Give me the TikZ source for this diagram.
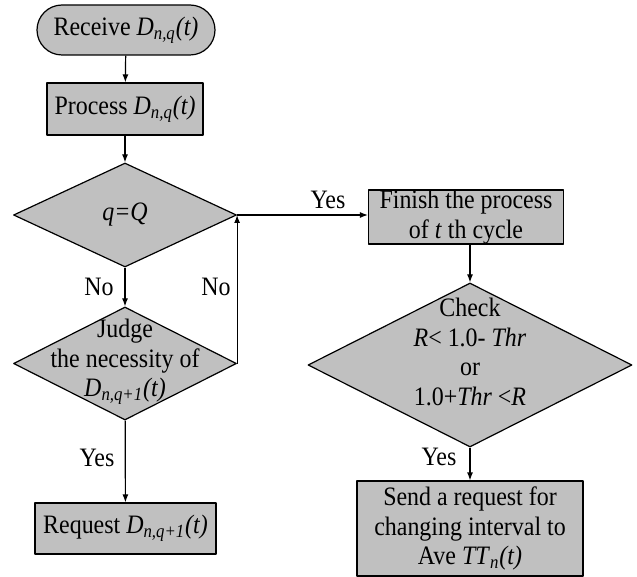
\documentclass[tikz,border=0pt]{standalone}
\usepackage{fontspec}
\setmainfont[FakeStretch=0.9]{Liberation Serif}
\usetikzlibrary{shapes.geometric,arrows.meta}
\definecolor{boxgray}{RGB}{192,192,192}
\newcommand{\Dsub}[1]{\textit{D}\textsubscript{\textit{#1}}\textit{(t)}}
\begin{document}
\begin{tikzpicture}[x=0.5pt, y=-0.5pt, font=\fontsize{13.3}{14.75}\selectfont, line join=round, >={Latex[length=4pt,width=3pt]},
  procbox/.style={draw, fill=boxgray, line width=0.6pt, inner sep=0pt, align=center},
  decision/.style={draw, fill=boxgray, line width=0.6pt, diamond, inner sep=0pt},
  flow/.style={->, line width=0.6pt}]
\useasboundingbox (0,0) rectangle (637,577);
\node[procbox, rounded corners=12.5pt, minimum width=89pt, minimum height=25pt] (receive) at (126,30) {Receive \Dsub{n,q}};
\node[procbox, minimum width=78pt, minimum height=26pt] (process) at (125,109) {Process \Dsub{n,q}};
\node[decision, minimum width=111.5pt, minimum height=52pt] (qq) at (125,215) {\textit{q=Q}};
\node[decision, minimum width=111.5pt, minimum height=56.5pt] (judge) at (125,363.5) {};
\node[align=center, inner sep=0pt] (judgetext) at (125,362) {Judge\\the necessity of\\\Dsub{n,q+1}};
\node[procbox, minimum width=90.5pt, minimum height=25.5pt] (request) at (125.5,528.5) {Request \Dsub{n,q+1}};
\node[procbox, minimum width=97.5pt, minimum height=27pt] (finish) at (466,217) {Finish the process\\of \textit{t} th cycle};
\node[decision, minimum width=162pt, minimum height=82pt] (check) at (470,365) {};
\node[align=center, inner sep=0pt] (checktext) at (470,352) {Check\\\textit{R}< 1.0- \textit{Thr}\\or\\1.0+\textit{Thr} <\textit{R}};
\node[procbox, minimum width=113pt, minimum height=47.5pt] (send) at (470,528.5) {Send a request for\\changing interval to\\Ave \textit{TT}\textsubscript{\textit{n}}\textit{(t)}};
\node (noleft) at (99,287) {No};
\node (noright) at (216,287) {No};
\node (yestop) at (328,200) {Yes};
\node (yesleft) at (97,458) {Yes};
\node (yesright) at (439,457) {Yes};
\draw[flow] (receive) -- (process);
\draw[flow] (process) -- (qq);
\draw[flow] (qq) -- (judge);
\draw[flow] (judge) -- (request);
\draw[flow] (judge.east) -- (qq.east);
\draw[flow] (qq.east) -- (qq.east -| finish.west);
\draw[flow] (check.north |- finish.south) -- (check.north);
\draw[flow] (check) -- (send);
\end{tikzpicture}
\end{document}
